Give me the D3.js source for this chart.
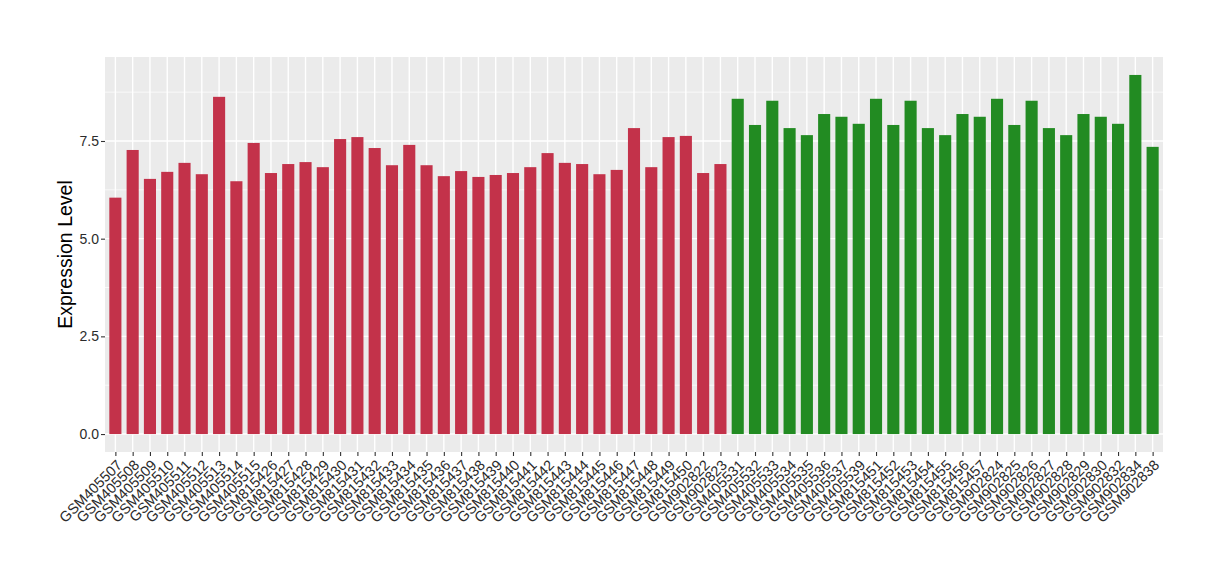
<!DOCTYPE html>
<html>
<head>
<meta charset="utf-8">
<script src="https://cdn.jsdelivr.net/npm/d3@7"></script>
<style>
  html, body { margin: 0; padding: 0; background: #ffffff; }
  svg { display: block; font-family: "Liberation Sans", Arial, Helvetica, sans-serif; }
</style>
</head>
<body>
<svg id="chart" width="1220" height="580"></svg>
<script>
const samples = [
  "GSM405507","GSM405508","GSM405509","GSM405510","GSM405511","GSM405512","GSM405513","GSM405514","GSM405515",
  "GSM815426","GSM815427","GSM815428","GSM815429","GSM815430","GSM815431","GSM815432","GSM815433","GSM815434",
  "GSM815435","GSM815436","GSM815437","GSM815438","GSM815439","GSM815440","GSM815441","GSM815442","GSM815443",
  "GSM815444","GSM815445","GSM815446","GSM815447","GSM815448","GSM815449","GSM815450","GSM902822","GSM902823",
  "GSM405531","GSM405532","GSM405533","GSM405534","GSM405535","GSM405536","GSM405537","GSM405539",
  "GSM815451","GSM815452","GSM815453","GSM815454","GSM815455","GSM815456","GSM815457",
  "GSM902824","GSM902825","GSM902826","GSM902827","GSM902828","GSM902829","GSM902830","GSM902832","GSM902834","GSM902838"
];
const values = [
  6.05, 7.27, 6.53, 6.71, 6.94, 6.65, 8.63, 6.47, 7.45,
  6.68, 6.91, 6.96, 6.83, 7.55, 7.60, 7.32, 6.88, 7.40,
  6.88, 6.60, 6.73, 6.58, 6.63, 6.68, 6.83, 7.19, 6.94,
  6.91, 6.65, 6.76, 7.83, 6.83, 7.60, 7.63, 6.68, 6.91,
  8.58, 7.91, 8.53, 7.83, 7.65, 8.19, 8.12, 7.94,
  8.58, 7.91, 8.53, 7.83, 7.65, 8.19, 8.12,
  8.58, 7.91, 8.53, 7.83, 7.65, 8.19, 8.12, 7.94, 9.19, 7.35
];
const groups = [
  "A","A","A","A","A","A","A","A","A",
  "A","A","A","A","A","A","A","A","A",
  "A","A","A","A","A","A","A","A","A",
  "A","A","A","A","A","A","A","A","A",
  "B","B","B","B","B","B","B","B",
  "B","B","B","B","B","B","B",
  "B","B","B","B","B","B","B","B","B","B"
];
const groupColors = { A: "#C3324A", B: "#228B22" };
const yTicks = [0, 2.5, 5, 7.5];
const yMinor = [1.25, 3.75, 6.25, 8.75];
const yTitle = "Expression Level";

const data = samples.map((s, i) => ({ name: s, value: values[i], group: groups[i] }));

const panel = { left: 105, right: 1163, top: 57, bottom: 452 };
const svg = d3.select("#chart");

const n = samples.length;
const maxV = d3.max(values);
const yExp = maxV * 0.05;
const y = d3.scaleLinear().domain([-yExp, maxV + yExp]).range([panel.bottom, panel.top]);
const xPos = d3.scaleLinear().domain([0.4, n + 0.6]).range([panel.left, panel.right]);
const unit = xPos(1) - xPos(0);
const barW = unit * 0.7;

svg.append("rect")
  .attr("x", panel.left).attr("y", panel.top)
  .attr("width", panel.right - panel.left).attr("height", panel.bottom - panel.top)
  .attr("fill", "#EBEBEB");

const grid = svg.append("g");
grid.selectAll("line.minor").data(yMinor).enter().append("line")
  .attr("x1", panel.left).attr("x2", panel.right)
  .attr("y1", d => y(d)).attr("y2", d => y(d))
  .attr("stroke", "#ffffff").attr("stroke-width", 0.7);
grid.selectAll("line.majorY").data(yTicks).enter().append("line")
  .attr("x1", panel.left).attr("x2", panel.right)
  .attr("y1", d => y(d)).attr("y2", d => y(d))
  .attr("stroke", "#ffffff").attr("stroke-width", 1.4);
grid.selectAll("line.majorX").data(data).enter().append("line")
  .attr("x1", (d, i) => xPos(i + 1)).attr("x2", (d, i) => xPos(i + 1))
  .attr("y1", panel.top).attr("y2", panel.bottom)
  .attr("stroke", "#ffffff").attr("stroke-width", 1.4);

svg.append("g").selectAll("rect").data(data).enter().append("rect")
  .attr("x", (d, i) => xPos(i + 1) - barW / 2)
  .attr("width", barW)
  .attr("y", d => y(d.value))
  .attr("height", d => y(0) - y(d.value))
  .attr("fill", d => groupColors[d.group]);

const yAxis = d3.axisLeft(y).tickValues(yTicks).tickFormat(d3.format(".1f")).tickSize(4).tickPadding(2);
const yg = svg.append("g").attr("transform", `translate(${panel.left},0)`).call(yAxis);
yg.select(".domain").remove();
yg.selectAll(".tick line").attr("stroke", "#333333").attr("stroke-width", 1.1);
yg.selectAll(".tick text").attr("fill", "#2b2b2b").style("font-size", "14px")
  .style("font-family", "'Liberation Sans', Arial, sans-serif");

const xBand = d3.scalePoint().domain(samples).range([xPos(1), xPos(n)]);
const xAxis = d3.axisBottom(xBand).tickSize(4).tickPadding(2);
const xg = svg.append("g").attr("transform", `translate(0,${panel.bottom})`).call(xAxis);
xg.select(".domain").remove();
xg.selectAll(".tick line").attr("stroke", "#333333").attr("stroke-width", 1.1);
xg.selectAll(".tick text")
  .attr("fill", "#2b2b2b").style("font-size", "14.5px")
  .style("font-family", "'Liberation Sans', Arial, sans-serif")
  .attr("text-anchor", "end")
  .attr("x", 0).attr("y", 0).attr("dy", "0")
  .attr("transform", "translate(7,14) rotate(-45)");

svg.append("text")
  .attr("transform", `translate(72,${(panel.top + panel.bottom) / 2}) rotate(-90)`)
  .attr("text-anchor", "middle")
  .attr("fill", "#000000")
  .style("font-size", "19.5px")
  .text(yTitle);
</script>
</body>
</html>
